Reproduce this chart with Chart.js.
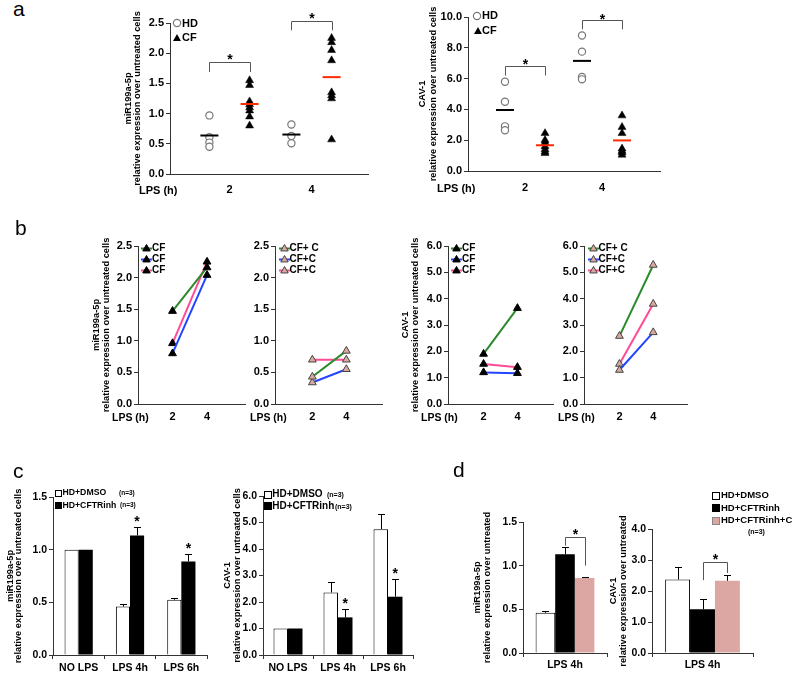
<!DOCTYPE html>
<html>
<head>
<meta charset="utf-8">
<title>Figure</title>
<script src="https://cdn.jsdelivr.net/npm/chart.js@4.4.1/dist/chart.umd.min.js"></script>
<style>
html,body{margin:0;padding:0;background:#fff;}
#root{position:relative;width:800px;height:676px;overflow:hidden;background:#fff;font-family:"Liberation Sans",Arial,Helvetica,sans-serif;}
#root canvas{position:absolute;}
.t{position:absolute;white-space:nowrap;font-weight:bold;color:#000;}
.s{position:absolute;overflow:visible;}
</style>
</head>
<body>
<div id="root"></div>
<script>
// ---------------- DATA ----------------
const lpsHours = [2, 4];

// panel a : miR199a-5p (individual subjects)
const aMirHD2 = [0.97, 0.61, 0.52, 0.45];
const aMirCF2 = [1.55, 1.47, 1.20, 1.15, 1.10, 1.05, 0.95, 0.80];
const aMirHD4 = [0.82, 0.63, 0.51];
const aMirCF4 = [2.25, 2.18, 2.05, 1.88, 1.35, 1.30, 1.25, 0.57];
// panel a : CAV-1
const aCavHD2 = [5.80, 4.50, 2.90, 2.65];
const aCavCF2 = [2.45, 2.00, 1.85, 1.60, 1.40, 1.25, 1.15];
const aCavHD4 = [8.80, 7.75, 6.10, 5.95];
const aCavCF4 = [3.60, 2.85, 2.45, 1.45, 1.30, 1.20, 1.05];

// panel b : paired values at 2h and 4h (green, blue, pink series)
const bMirCF  = [[1.47, 2.16], [0.80, 2.04], [0.96, 2.25]];
const bMirCFC = [[0.43, 0.84], [0.34, 0.55], [0.70, 0.70]];
const bCavCF  = [[1.90, 3.64], [1.20, 1.17], [1.52, 1.40]];
const bCavCFC = [[2.58, 5.28], [1.29, 2.72], [1.52, 3.80]];
const bLabelsCF  = ['CF', 'CF', 'CF'];
const bLabelsCFC = ['CF+ C', 'CF+C', 'CF+C'];

// panel c
const cCategories = ['NO LPS', 'LPS 4h', 'LPS 6h'];
const cMirDMSO    = [1.00, 0.46, 0.525];
const cMirDMSOErr = [0, 0.025, 0.012];
const cMirInh     = [1.00, 1.135, 0.888];
const cMirInhErr  = [0, 0.08, 0.072];
const cCavDMSO    = [1.00, 2.36, 4.75];
const cCavDMSOErr = [0, 0.41, 0.57];
const cCavInh     = [1.00, 1.42, 2.20];
const cCavInhErr  = [0, 0.33, 0.68];
const cStars      = [false, true, true];

// panel d
const dCategories = ['LPS 4h'];
const dGroups = ['HD+DMSO', 'HD+CFTRinh', 'HD+CFTRinh+C'];
const dMir    = [0.46, 1.13, 0.86];
const dMirErr = [0.02, 0.08, 0.01];
const dCav    = [2.37, 1.41, 2.33];
const dCavErr = [0.40, 0.34, 0.20];

// ---------------- STYLE ----------------
const FF = '"Liberation Sans", Arial, Helvetica, sans-serif';
Chart.defaults.font.family = FF;
Chart.defaults.color = '#000';
const AXIS = '#333';
const B_COLORS = ['#2a8a2a', '#2445ff', '#ff4a96'];
const PINK = '#dca7a3';
const TRI_FILL_C = '#d9a89f';
const root = document.getElementById('root');

function yScale(o) {
  const ts = o.tsize || 9.3, lh = o.lh || 10;
  return {
    type: 'linear', min: o.min, max: o.max,
    ticks: {stepSize: o.step, callback: v => Number(v).toFixed(1), font: {size: o.tick || 11, weight: 'bold'}, padding: 2, color: '#000'},
    grid: {display: true, drawOnChartArea: false, drawTicks: true, tickLength: 4, color: AXIS, lineWidth: 1},
    border: {display: true, color: AXIS, width: 1},
    title: o.title ? {display: true, text: o.title, color: '#000', padding: 0,
      font: {size: ts, weight: 'bold', lineHeight: lh / ts}} : {display: false}
  };
}
function xLinear(o) {
  return {
    type: 'linear', min: o.min, max: o.max,
    afterBuildTicks: s => { s.ticks = lpsHours.map(v => ({value: v})); },
    ticks: {callback: v => String(v), font: {size: o.tick || 11, weight: 'bold'}, padding: o.pad, color: '#000', autoSkip: false, maxRotation: 0},
    grid: {display: false, drawTicks: false},
    border: {display: true, color: AXIS, width: 1}
  };
}
function xCategory(o) {
  return {
    type: 'category',
    ticks: {font: {size: o.tick || 10.5, weight: 'bold'}, padding: o.pad, color: '#000', autoSkip: false, maxRotation: 0},
    grid: {display: true, drawOnChartArea: false, drawTicks: true, tickLength: 4, color: AXIS, offset: true},
    border: {display: true, color: AXIS, width: 1}
  };
}

function drawStar(ctx, x, yc) {
  const size = 14;
  ctx.font = 'bold ' + size + 'px ' + FF;
  ctx.fillStyle = '#000';
  ctx.textAlign = 'center';
  ctx.textBaseline = 'alphabetic';
  ctx.fillText('*', x, yc + 0.575 * size);
}

function extras(ex) {
  return {
    id: 'extras',
    afterDatasetsDraw(chart) {
      const ctx = chart.ctx, xs = chart.scales.x, ys = chart.scales.y;
      ctx.save();
      chart.data.datasets.forEach((ds, di) => {
        if (!ds.errors) return;
        const meta = chart.getDatasetMeta(di);
        meta.data.forEach((el, i) => {
          const e = ds.errors[i];
          let yt = el.y;
          if (e) {
            yt = ys.getPixelForValue(ds.data[i] + e);
            const x = Math.round(el.x) + 0.5, yr = Math.round(yt) + 0.5;
            ctx.strokeStyle = '#000'; ctx.lineWidth = 1;
            ctx.beginPath();
            ctx.moveTo(x, el.y); ctx.lineTo(x, yr);
            ctx.moveTo(x - 3.5, yr); ctx.lineTo(x + 3.5, yr);
            ctx.stroke();
          }
          if (ds.stars && ds.stars[i]) drawStar(ctx, el.x, yt - 9);
        });
      });
      (ex.brackets || []).forEach(b => {
        let x1, x2;
        if (b.bars) {
          x1 = chart.getDatasetMeta(b.bars[0]).data[b.bars[2]].x;
          x2 = chart.getDatasetMeta(b.bars[1]).data[b.bars[2]].x;
        } else {
          x1 = xs.getPixelForValue(b.x1); x2 = xs.getPixelForValue(b.x2);
        }
        x1 = Math.round(x1) + 0.5; x2 = Math.round(x2) + 0.5;
        const yt = Math.round(ys.getPixelForValue(b.top)) + 0.5;
        const y1 = ys.getPixelForValue(b.leg1), y2 = ys.getPixelForValue(b.leg2);
        ctx.strokeStyle = '#555'; ctx.lineWidth = 1;
        ctx.beginPath();
        ctx.moveTo(x1, y1); ctx.lineTo(x1, yt); ctx.lineTo(x2, yt); ctx.lineTo(x2, y2);
        ctx.stroke();
        drawStar(ctx, (x1 + x2) / 2, ys.getPixelForValue(b.star));
      });
      ctx.restore();
    }
  };
}

function makeChart(spec) {
  const a = spec.area;
  const lh = spec.lh || 10;
  const cl = spec.t1x != null ? Math.round(spec.t1x - lh / 2) : a.l - 36;
  const PT = 24, PR = 24, PB = 4;
  const ct = a.t - PT;
  const cw = a.r + PR - cl;
  const ch = a.b + spec.xH + PB - ct;
  const cv = document.createElement('canvas');
  cv.width = cw; cv.height = ch;
  cv.style.left = cl + 'px'; cv.style.top = ct + 'px';
  cv.style.width = cw + 'px'; cv.style.height = ch + 'px';
  root.appendChild(cv);
  const yW = a.l - cl, xH = spec.xH;
  spec.x.afterFit = s => { s.height = xH; };
  spec.y.afterFit = s => { s.width = yW; };
  return new Chart(cv, {
    type: spec.type,
    data: spec.data,
    options: {
      responsive: false, maintainAspectRatio: false, animation: false, devicePixelRatio: 1,
      events: [],
      layout: {padding: {left: 0, top: PT, right: PR, bottom: PB}},
      plugins: {legend: {display: false}, tooltip: {enabled: false}},
      scales: {x: spec.x, y: spec.y}
    },
    plugins: [extras(spec.extras || {})]
  });
}

// ---------- panel a ----------
const mean = arr => arr.reduce((s, v) => s + v, 0) / arr.length;
function scatterA(hd2, cf2, hd4, cf4, off) {
  const P = (h, arr, o) => arr.map(v => ({x: h + o, y: v}));
  const M = (h, arr, o) => ({x: h + o, y: mean(arr)});
  return {datasets: [
    {data: [M(2, hd2, -off), M(4, hd4, -off)], showLine: false, pointStyle: 'line', pointRadius: 9,
     pointBorderColor: '#000', borderColor: '#000', pointBorderWidth: 2, borderWidth: 2},
    {data: [M(2, cf2, off), M(4, cf4, off)], showLine: false, pointStyle: 'line', pointRadius: 9,
     pointBorderColor: '#ff2a00', borderColor: '#ff2a00', pointBorderWidth: 2, borderWidth: 2},
    {data: [...P(2, hd2, -off), ...P(4, hd4, -off)], showLine: false, pointStyle: 'circle', pointRadius: 3.6,
     pointBackgroundColor: '#fff', pointBorderColor: '#777', pointBorderWidth: 1.2},
    {data: [...P(2, cf2, off), ...P(4, cf4, off)], showLine: false, pointStyle: 'triangle', pointRadius: 4.6,
     pointBackgroundColor: '#000', pointBorderColor: '#000', pointBorderWidth: 0.5}
  ]};
}
const TITLE_MIR = ['miR199a-5p', 'relative expression over untreated cells'];
const TITLE_CAV = ['CAV-1', 'relative expression over untreated cells'];

makeChart({
  type: 'scatter', area: {l: 170, t: 23, r: 368, b: 174}, t1x: 128, lh: 9, xH: 28,
  data: scatterA(aMirHD2, aMirCF2, aMirHD4, aMirCF4, 0.49),
  x: xLinear({min: 0.549, max: 5.378, pad: 9.4}),
  y: yScale({min: 0, max: 2.5, step: 0.5, title: TITLE_MIR, lh: 9}),
  extras: {brackets: [
    {x1: 2 - 0.49, x2: 2 + 0.49, top: 1.85, leg1: 1.69, leg2: 1.69, star: 1.95},
    {x1: 4 - 0.49, x2: 4 + 0.49, top: 2.53, leg1: 2.38, leg2: 2.38, star: 2.63}
  ]}
});
makeChart({
  type: 'scatter', area: {l: 468, t: 17, r: 660, b: 171}, t1x: 422, lh: 11, xH: 28,
  data: scatterA(aCavHD2, aCavCF2, aCavHD4, aCavCF4, 0.52),
  x: xLinear({min: 0.5195, max: 5.506, pad: 10}),
  y: yScale({min: 0, max: 10, step: 2, title: TITLE_CAV, lh: 11}),
  extras: {brackets: [
    {x1: 2 - 0.52, x2: 2 + 0.52, top: 6.8, leg1: 6.2, leg2: 6.2, star: 7.15},
    {x1: 4 - 0.52, x2: 4 + 0.52, top: 9.8, leg1: 9.2, leg2: 9.2, star: 10.1}
  ]}
});

// ---------- panel b ----------
function linesB(series, fill, border) {
  return {datasets: series.map((s, i) => ({
    data: lpsHours.map((h, j) => ({x: h, y: s[j]})),
    showLine: true, borderColor: B_COLORS[i], borderWidth: 2,
    pointStyle: 'triangle', pointRadius: 4.5,
    pointBackgroundColor: fill, pointBorderColor: border, pointBorderWidth: 1
  }))};
}
makeChart({
  type: 'scatter', area: {l: 138, t: 246, r: 245, b: 404}, t1x: 95.5, lh: 10, xH: 24,
  data: linesB(bMirCF, '#000', '#000'),
  x: xLinear({min: 0, max: 6.2, pad: 6.4}),
  y: yScale({min: 0, max: 2.5, step: 0.5, title: TITLE_MIR, lh: 10})
});
makeChart({
  type: 'scatter', area: {l: 275, t: 246, r: 382, b: 404}, xH: 24,
  data: linesB(bMirCFC, TRI_FILL_C, '#444'),
  x: xLinear({min: -0.2, max: 6.1, pad: 6.4}),
  y: yScale({min: 0, max: 2.5, step: 0.5})
});
makeChart({
  type: 'scatter', area: {l: 448, t: 246, r: 553, b: 404}, t1x: 406, lh: 9.5, xH: 24,
  data: linesB(bCavCF, '#000', '#000'),
  x: xLinear({min: -0.1, max: 6.1, pad: 6.4}),
  y: yScale({min: 0, max: 6, step: 1, title: TITLE_CAV, lh: 9.5})
});
makeChart({
  type: 'scatter', area: {l: 584, t: 246, r: 687, b: 404}, xH: 24,
  data: linesB(bCavCFC, TRI_FILL_C, '#444'),
  x: xLinear({min: -0.1, max: 6.0, pad: 6.4}),
  y: yScale({min: 0, max: 6, step: 1})
});

// ---------- panel c ----------
function barsC(v1, e1, v2, e2, pct) {
  return {labels: cCategories, datasets: [
    {data: v1, errors: e1, backgroundColor: '#fff', borderColor: '#000', borderWidth: 1, barPercentage: 1, categoryPercentage: pct},
    {data: v2, errors: e2, stars: cStars, backgroundColor: '#000', borderColor: '#000', borderWidth: 0, barPercentage: 1, categoryPercentage: pct}
  ]};
}
makeChart({
  type: 'bar', area: {l: 53, t: 497, r: 207, b: 655}, t1x: 10, lh: 8.5, xH: 20,
  data: barsC(cMirDMSO, cMirDMSOErr, cMirInh, cMirInhErr, 0.55),
  x: xCategory({pad: 2.4}),
  y: yScale({min: 0, max: 1.5, step: 0.5, title: TITLE_MIR, lh: 8.5, tick: 10.5})
});
makeChart({
  type: 'bar', area: {l: 263, t: 496, r: 413, b: 655}, t1x: 228, lh: 9.3, xH: 20,
  data: barsC(cCavDMSO, cCavDMSOErr, cCavInh, cCavInhErr, 0.58),
  x: xCategory({pad: 2.4}),
  y: yScale({min: 0, max: 6, step: 1, title: TITLE_CAV, lh: 9.3, tick: 10.5})
});

// ---------- panel d ----------
const D_FILL = ['#fff', '#000', PINK];
function barsD(vals, errs, pct) {
  return {labels: dCategories, datasets: dGroups.map((g, i) => ({
    label: g, data: [vals[i]], errors: [errs[i]],
    backgroundColor: D_FILL[i], borderColor: '#000', borderWidth: i === 0 ? 1 : 0,
    barPercentage: 1, categoryPercentage: pct
  }))};
}
makeChart({
  type: 'bar', area: {l: 523, t: 522, r: 607, b: 653}, t1x: 478, lh: 9.3, xH: 20,
  data: barsD(dMir, dMirErr, 0.7),
  x: xCategory({pad: 1.4}),
  y: yScale({min: 0, max: 1.5, step: 0.5, title: ['miR199a-5p', 'relative expression over untreated'], lh: 9.3, tick: 10.5}),
  extras: {brackets: [{bars: [1, 2, 0], top: 1.33, leg1: 1.23, leg2: 1.0, star: 1.40}]}
});
makeChart({
  type: 'bar', area: {l: 652, t: 529, r: 753, b: 653}, t1x: 613, lh: 10, xH: 20,
  data: barsD(dCav, dCavErr, 0.74),
  x: xCategory({pad: 1.4}),
  y: yScale({min: 0, max: 4, step: 1, title: ['CAV-1', 'relative expression over untreated'], lh: 10, tick: 10.5}),
  extras: {brackets: [{bars: [1, 2, 0], top: 2.92, leg1: 2.35, leg2: 2.58, star: 3.12}]}
});

// ---------------- TEXT OVERLAYS ----------------
function txt(x, yc, s, size, weight) {
  const d = document.createElement('div');
  d.className = 't';
  d.style.cssText = 'left:' + x + 'px;top:' + (yc - size / 2).toFixed(1) + 'px;font-size:' + size + 'px;line-height:' + size + 'px;' + (weight ? 'font-weight:' + weight + ';' : '');
  d.textContent = s;
  root.appendChild(d);
  return d;
}
function svg(x, y, w, h, inner) {
  root.insertAdjacentHTML('beforeend', '<svg class="s" style="left:' + x + 'px;top:' + y + 'px" width="' + w + '" height="' + h + '" viewBox="0 0 ' + w + ' ' + h + '">' + inner + '</svg>');
}
function triPts(cx, cy, r) {
  return [[cx, cy - r], [cx + 0.866 * r, cy + 0.5 * r], [cx - 0.866 * r, cy + 0.5 * r]].map(p => p.map(n => n.toFixed(2)).join(',')).join(' ');
}
function symCircle(cx, cy) { svg(cx - 6, cy - 6, 12, 12, '<circle cx="6" cy="6" r="3.6" fill="#fff" stroke="#777" stroke-width="1.2"/>'); }
function symTri(cx, cy) { svg(cx - 6, cy - 6, 12, 12, '<polygon points="' + triPts(6, 6.6, 4.6) + '" fill="#000"/>'); }
function symLineTri(x0, cy, color, fill, border) {
  svg(x0, cy - 6, 11, 12, '<line x1="0" y1="6.5" x2="11" y2="6.5" stroke="' + color + '" stroke-width="2"/>' +
    '<polygon points="' + triPts(5.5, 6.8, 4.3) + '" fill="' + fill + '" stroke="' + border + '" stroke-width="1"/>');
}
function symSquare(x, cy, s, fill, stroke) {
  svg(x, Math.round(cy - s / 2), s + 1, s + 1, '<rect x="0.5" y="0.5" width="' + s + '" height="' + s + '" fill="' + fill + '" stroke="' + stroke + '" stroke-width="1"/>');
}

// panel letters
txt(13, 8.7, 'a', 21, 'normal');
txt(15, 227.7, 'b', 21, 'normal');
txt(13, 470.7, 'c', 21, 'normal');
txt(453, 469.5, 'd', 21, 'normal');

// LPS (h) labels
txt(139, 190, 'LPS (h)', 11);
txt(437, 188, 'LPS (h)', 11);
txt(112, 417, 'LPS (h)', 10.5);
txt(250, 417, 'LPS (h)', 10.5);
txt(421, 417, 'LPS (h)', 10.5);
txt(558, 417, 'LPS (h)', 10.5);

// panel a legends
symCircle(177, 23.3); txt(182, 23.3, 'HD', 11);
symTri(177, 37.7); txt(182, 37.7, 'CF', 11);
symCircle(477, 15.5); txt(482, 15.5, 'HD', 11);
symTri(477.5, 30.7); txt(482, 30.7, 'CF', 11);

// panel b legends
const bRows = [248, 259, 270];
function legendB(x0, labels, fill, border) {
  labels.forEach((lab, i) => {
    symLineTri(x0, bRows[i], B_COLORS[i], fill, border);
    txt(x0 + 11, bRows[i], lab, 10);
  });
}
legendB(141, bLabelsCF, '#000', '#000');
legendB(278.5, bLabelsCFC, TRI_FILL_C, '#444');
legendB(451, bLabelsCF, '#000', '#000');
legendB(587.5, bLabelsCFC, TRI_FILL_C, '#444');

// panel c legends
symSquare(55, 492.7, 6, '#fff', '#000'); txt(62.5, 492.7, 'HD+DMSO', 8.7); txt(119, 493.2, '(n=3)', 6.5);
symSquare(55, 505, 6, '#000', '#000'); txt(62.5, 505, 'HD+CFTRinh', 8.7); txt(120, 505.5, '(n=3)', 6.5);
symSquare(264, 494, 7, '#fff', '#000'); txt(272.3, 494, 'HD+DMSO', 10); txt(327, 494.5, '(n=3)', 7);
symSquare(264, 505.5, 7, '#000', '#000'); txt(272.3, 505.5, 'HD+CFTRinh', 10); txt(335, 506, '(n=3)', 7);

// panel d legend
symSquare(712, 495, 7, '#fff', '#000'); txt(721, 495, dGroups[0], 9.5);
symSquare(712, 507.5, 7, '#000', '#000'); txt(721, 507.5, dGroups[1], 9.5);
symSquare(712, 520, 7, PINK, '#888'); txt(721, 520, dGroups[2], 9.5);
txt(748, 531.7, '(n=3)', 7);
</script>
</body>
</html>
